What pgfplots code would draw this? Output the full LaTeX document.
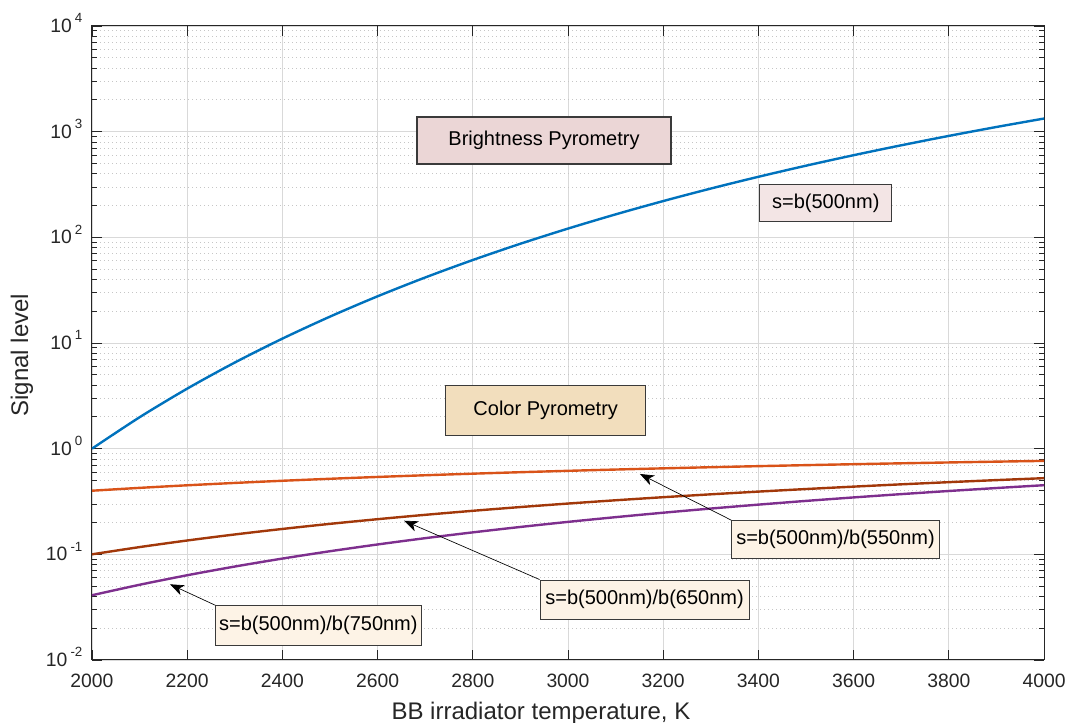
\documentclass[border=0pt]{standalone}
\usepackage{pgfplots}
\pgfplotsset{compat=1.18}
\usepackage{fontspec}
\setmainfont{Liberation Sans}
\usetikzlibrary{arrows.meta}

\definecolor{mblue}{HTML}{0072BD}
\definecolor{morange}{HTML}{D95319}
\definecolor{mbrown}{HTML}{A2380A}
\definecolor{mpurple}{HTML}{7E2F8E}
\definecolor{axgray}{HTML}{262626}
\definecolor{bpink}{HTML}{EBD6D6}
\definecolor{lpink}{HTML}{F3E5E5}
\definecolor{wheat}{HTML}{F2DEBD}
\definecolor{cream}{HTML}{FDF3E6}
\definecolor{edgegray}{HTML}{3A3A3A}

% power-of-ten tick label, superscript kept out of the vertical centring
\newcommand{\tenpow}[1]{10\,\smash{\raisebox{0.5em}{\fontsize{10}{10}\selectfont #1}}}

\begin{document}
\begin{tikzpicture}
\begin{axis}[
  name=ax,
  scale only axis,
  width=714pt, height=475.5pt,
  xmin=2000, xmax=4000,
  ymode=log, ymin=1e-2, ymax=1e4,
  xtick={2000,2200,2400,2600,2800,3000,3200,3400,3600,3800,4000},
  ytick={1e-2,1e-1,1,1e1,1e2,1e3,1e4},
  yticklabels={\tenpow{-2},\tenpow{-1},\tenpow{0},\tenpow{1},\tenpow{2},\tenpow{3},\tenpow{4}},
  minor ytick={0.02,0.03,0.04,0.05,0.06,0.07,0.08,0.09,
               0.2,0.3,0.4,0.5,0.6,0.7,0.8,0.9,
               2,3,4,5,6,7,8,9,
               20,30,40,50,60,70,80,90,
               200,300,400,500,600,700,800,900,
               2000,3000,4000,5000,6000,7000,8000,9000},
  /pgf/number format/1000 sep={},
  /pgf/number format/assume math mode=true,
  xmajorgrids, ymajorgrids, yminorgrids,
  major grid style={line width=0.6pt, color=gray!30},
  minor grid style={line width=0.6pt, color=gray!45, dash pattern=on 0.75pt off 2.25pt},
  axis line style={axgray, line width=0.75pt},
  tick align=inside,
  xtick pos=both, ytick pos=both,
  major tick length=7.5pt, minor tick length=3.75pt,
  tick style={axgray, line width=0.6pt},
  xticklabel style={font=\fontsize{14.5}{17}\selectfont, text=axgray, anchor=north, inner sep=0pt, yshift=-10.5pt},
  yticklabel style={font=\fontsize{14.5}{17}\selectfont, text=axgray, anchor=east, inner sep=0pt, xshift=-7pt},
  xlabel={BB irradiator temperature, K},
  ylabel={Signal level},
  xlabel style={font=\fontsize{18}{21}\selectfont, text=axgray, inner sep=0pt,
                at={(axis description cs:0.4716,-0.0936)}, anchor=base},
  ylabel style={font=\fontsize{18}{21}\selectfont, text=axgray, inner sep=0pt,
                at={(axis description cs:-0.0672,0.481)}, anchor=base},
  every axis plot/.append style={no marks, smooth, line width=1.8pt},
]

% s = b(500 nm)
\addplot[mblue] coordinates {
  (2000,1) (2100,1.984) (2200,3.699) (2300,6.533) (2400,11.00) (2500,17.77)
  (2600,27.67) (2700,41.69) (2800,61.00) (2900,86.95) (3000,121.0) (3100,164.9)
  (3200,220.4) (3300,289.5) (3400,374.1) (3500,476.4) (3600,598.7) (3700,743.0)
  (3800,911.8) (3900,1107) (4000,1331)
};
% s = b(500 nm)/b(550 nm)
\addplot[morange] coordinates {
  (2000,0.4000) (2100,0.4256) (2200,0.4502) (2300,0.4739) (2400,0.4968) (2500,0.5188)
  (2600,0.5400) (2700,0.5603) (2800,0.5799) (2900,0.5988) (3000,0.6170) (3100,0.6345)
  (3200,0.6513) (3300,0.6676) (3400,0.6832) (3500,0.6983) (3600,0.7129) (3700,0.7269)
  (3800,0.7405) (3900,0.7536) (4000,0.7662)
};
% s = b(500 nm)/b(650 nm)
\addplot[mbrown] coordinates {
  (2000,0.1000) (2100,0.1171) (2200,0.1352) (2300,0.1542) (2400,0.1739) (2500,0.1943)
  (2600,0.2151) (2700,0.2365) (2800,0.2582) (2900,0.2802) (3000,0.3024) (3100,0.3248)
  (3200,0.3473) (3300,0.3698) (3400,0.3924) (3500,0.4149) (3600,0.4373) (3700,0.4597)
  (3800,0.4819) (3900,0.5040) (4000,0.5259)
};
% s = b(500 nm)/b(750 nm)
\addplot[mpurple] coordinates {
  (2000,0.0410) (2100,0.05152) (2200,0.06341) (2300,0.07664) (2400,0.09118) (2500,0.1070)
  (2600,0.1240) (2700,0.1422) (2800,0.1614) (2900,0.1816) (3000,0.2028) (3100,0.2248)
  (3200,0.2477) (3300,0.2712) (3400,0.2954) (3500,0.3203) (3600,0.3456) (3700,0.3714)
  (3800,0.3976) (3900,0.4241) (4000,0.4510)
};

% text boxes
\tikzset{tbox/.style={draw=edgegray, line width=0.8pt, inner sep=0pt, text=black,
                      font=\fontsize{15}{18}\selectfont},
         tarrow/.style={-{Stealth[length=10.5pt,width=8pt,inset=3pt]}, line width=0.5pt, black}}

\node[tbox, fill=bpink, minimum width=190.5pt, minimum height=35.25pt]
  at (rel axis cs:0.4748,0.8194) {Brightness Pyrometry\hspace{9pt}};
\node[tbox, fill=wheat, minimum width=150pt, minimum height=37.5pt]
  at (rel axis cs:0.4766,0.3931) {Color Pyrometry\hspace{8.5pt}};
\node[tbox, fill=lpink, minimum width=98.8pt, minimum height=27.5pt]
  at (rel axis cs:0.7708,0.7204) {s=b(500nm)};

\node[tbox, fill=cream, minimum width=155.7pt, minimum height=28.7pt] (b550)
  at (rel axis cs:0.7810,0.1896) {s=b(500nm)/b(550nm)};
\node[tbox, fill=cream, minimum width=156.75pt, minimum height=29.5pt] (b650)
  at (rel axis cs:0.5804,0.0951) {s=b(500nm)/b(650nm)};
\node[tbox, fill=cream, minimum width=154pt, minimum height=29.5pt] (b750)
  at (rel axis cs:0.2378,0.0546) {s=b(500nm)/b(750nm)};

\draw[tarrow] (b550.north west) -- (rel axis cs:0.5756,0.2934);
\draw[tarrow] (b650.north west) -- (rel axis cs:0.3277,0.2197);
\draw[tarrow] (b750.north west) -- (rel axis cs:0.0819,0.1194);
\end{axis}

\pgfresetboundingbox
\path[use as bounding box] ([xshift=-69pt,yshift=-47.25pt]ax.south west)
  rectangle ([xshift=17.25pt,yshift=19.5pt]ax.north east);
\end{tikzpicture}
\end{document}
